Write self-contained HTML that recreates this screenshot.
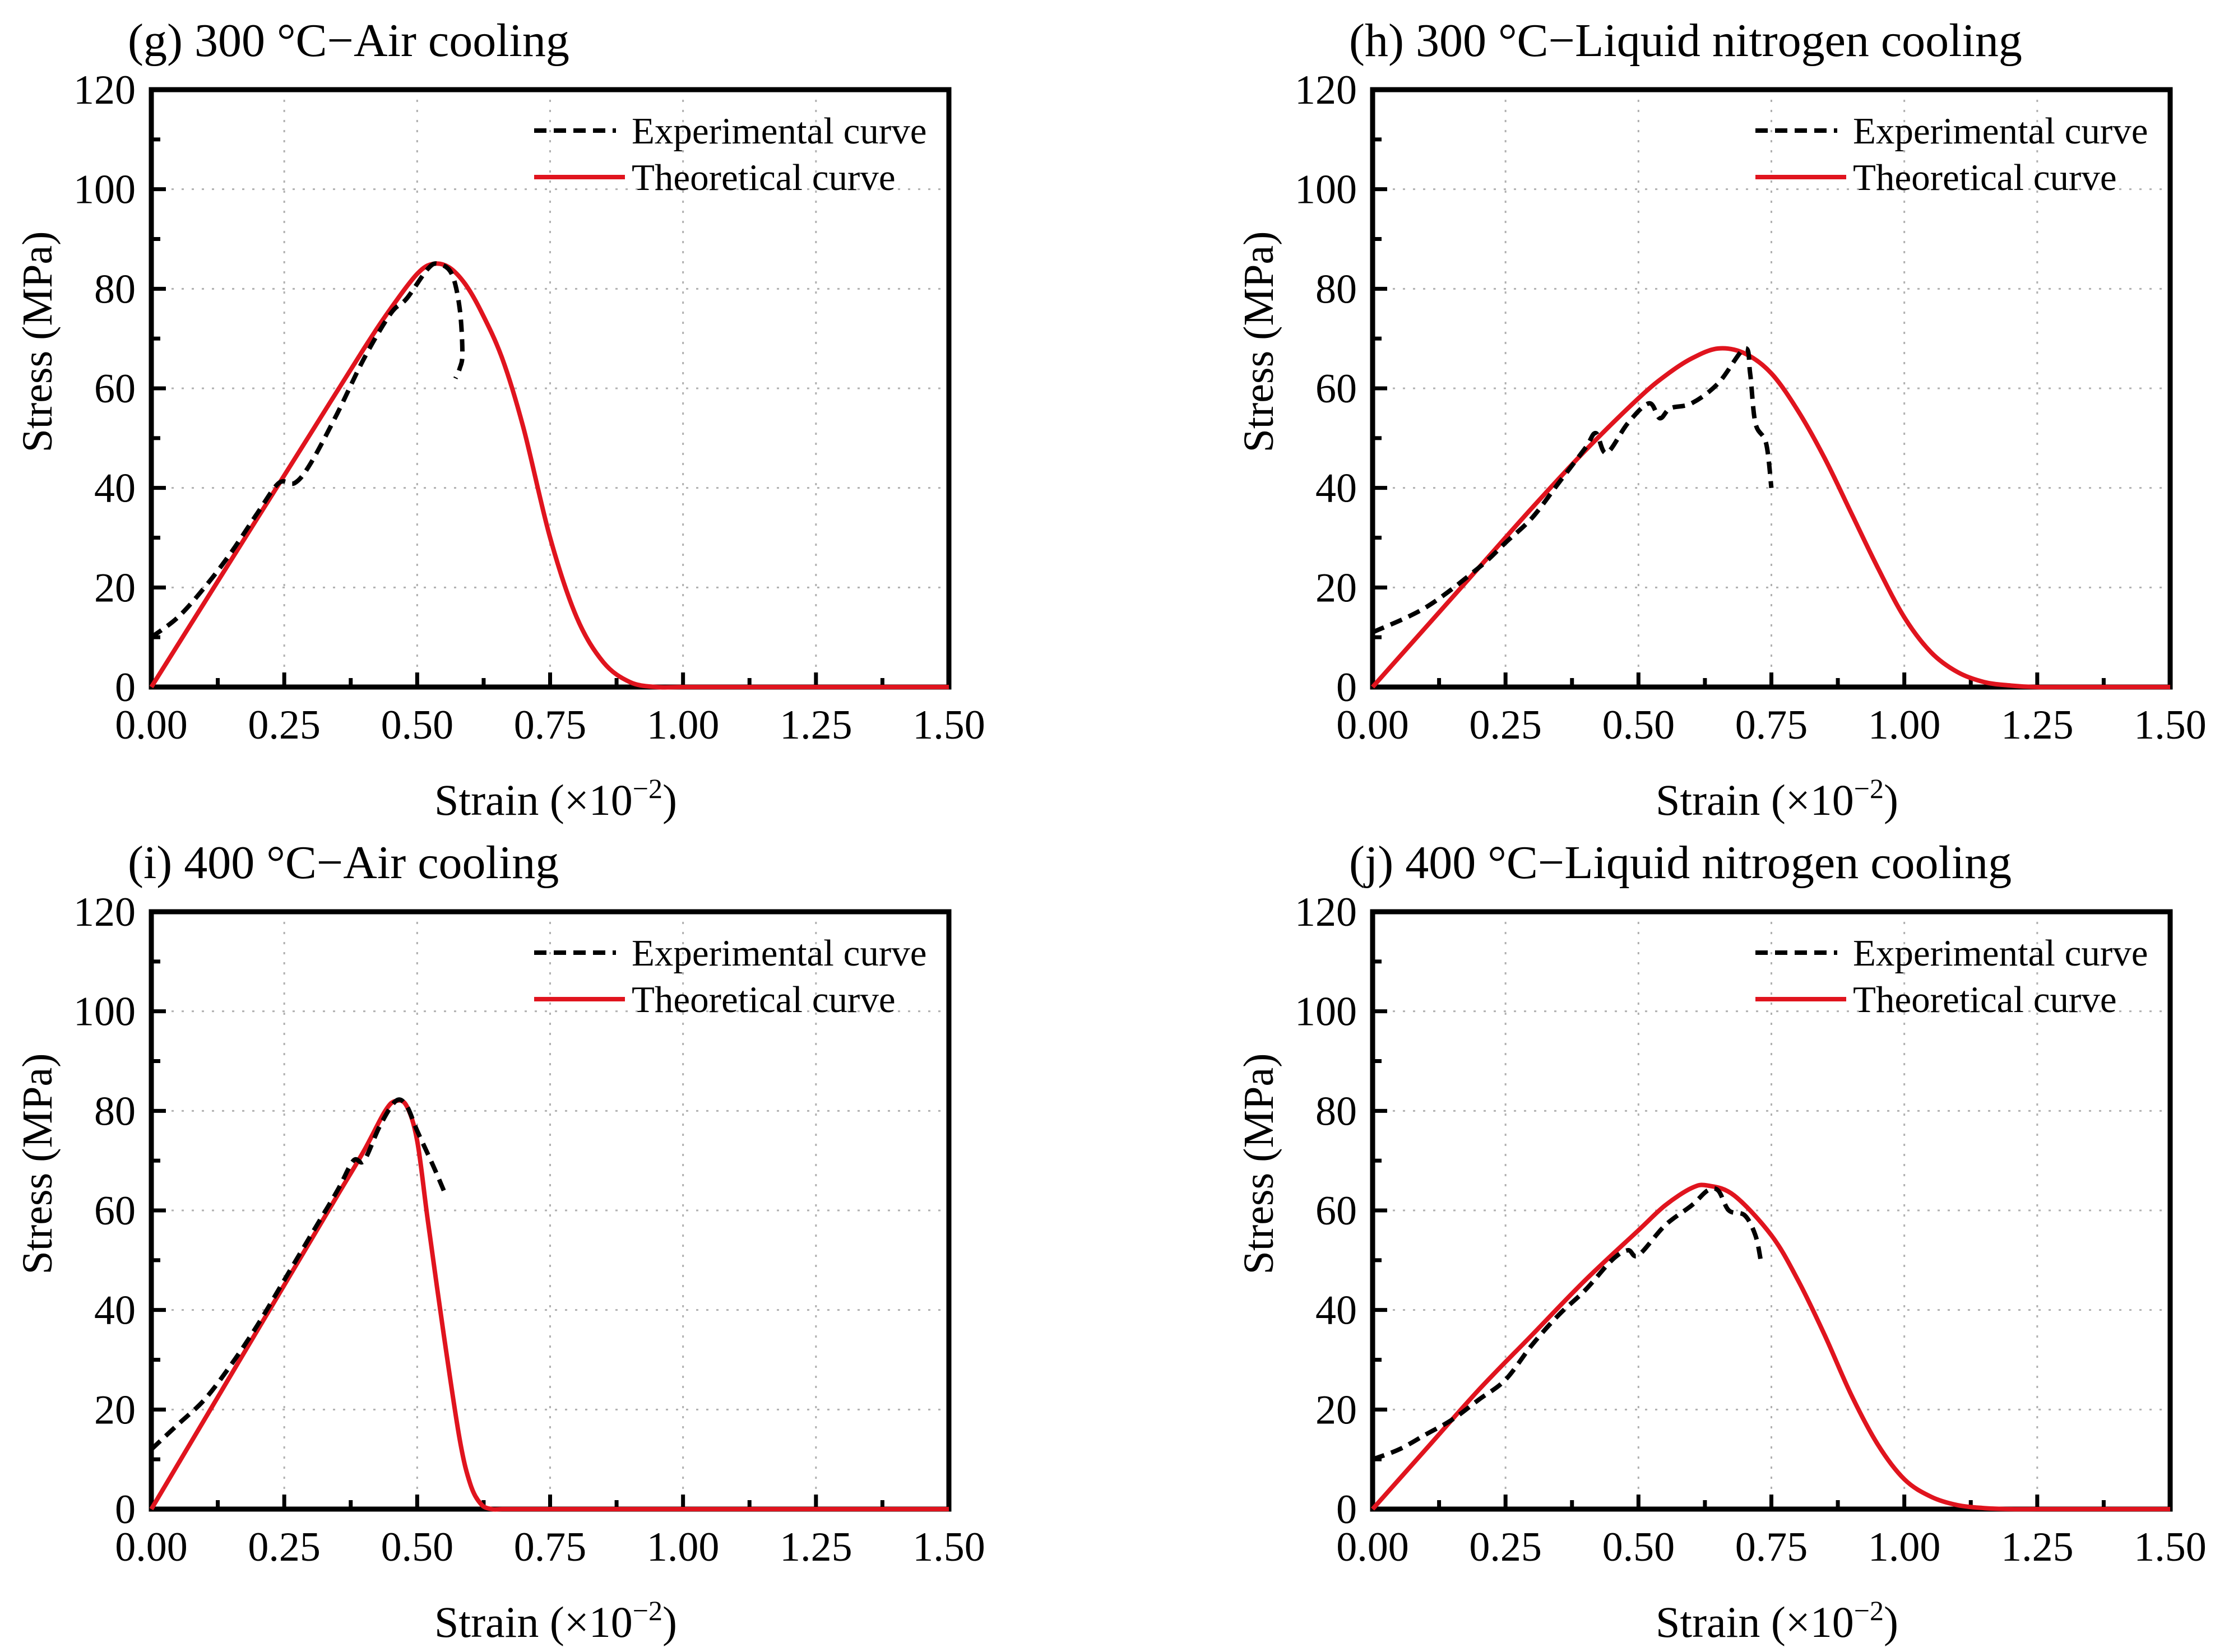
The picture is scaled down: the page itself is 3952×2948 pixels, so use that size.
<!DOCTYPE html>
<html><head><meta charset="utf-8">
<style>
html,body{margin:0;padding:0;background:#fff;}
svg{display:block;font-family:"Liberation Serif","Times New Roman",serif;}
</style></head>
<body>
<svg id="chart" width="3952" height="2948" viewBox="0 0 3952 2948" xmlns="http://www.w3.org/2000/svg"></svg>
<script>
// ---- data ----
const xTicks = [0, 0.25, 0.5, 0.75, 1.0, 1.25, 1.5];
const xTickLabels = ["0.00","0.25","0.50","0.75","1.00","1.25","1.50"];
const yTicks = [0, 20, 40, 60, 80, 100, 120];
const yTickLabels = ["0","20","40","60","80","100","120"];
const panelTitles = ["(g) 300 °C\u2212Air cooling","(h) 300 °C\u2212Liquid nitrogen cooling","(i) 400 °C\u2212Air cooling","(j) 400 °C\u2212Liquid nitrogen cooling"];

const gTheoX = [0,0.1,0.2,0.3,0.4,0.45,0.5,0.53,0.56,0.59,0.62,0.66,0.7,0.75,0.8,0.85,0.9,0.95,1.0,1.1,1.2,1.3,1.4,1.5];
const gTheoY = [0,17,34,51,68,76,83,85,84.3,81,75.5,66,52,30,14,5,1,0,0,0,0,0,0,0];
const gExpX = [0,0.05,0.1,0.15,0.2,0.24,0.27,0.3,0.35,0.4,0.45,0.48,0.52,0.54,0.565,0.58,0.585,0.58,0.572];
const gExpY = [10,14,20,27,35,41,41,45,55,66,75,78,84,85,83,76,67,64,62];

const hTheoX = [0,0.1,0.2,0.3,0.4,0.5,0.55,0.6,0.65,0.7,0.75,0.8,0.85,0.9,0.95,1.0,1.05,1.1,1.15,1.2,1.25,1.3,1.4,1.5];
const hTheoY = [0,12,24,36,47.5,58,62.5,66,68,67,63,55.5,46,35,24,14,7,3,1,0.3,0,0,0,0];
const hExpX = [0,0.1,0.2,0.25,0.3,0.35,0.4,0.42,0.44,0.48,0.52,0.54,0.56,0.6,0.65,0.7,0.71,0.72,0.74,0.75];
const hExpY = [11,16,24,29,34,41,48,51,47,53,57,54,56,57,61,68,63,53,49,40];

const iTheoX = [0,0.1,0.2,0.3,0.35,0.4,0.44,0.46,0.48,0.5,0.52,0.55,0.58,0.6,0.62,0.64,0.66,0.7,0.8,0.9,1.0,1.1,1.2,1.3,1.4,1.5];
const iTheoY = [0,18,36,54,63,72,80,82,81,74,58,35,14,5,1,0,0,0,0,0,0,0,0,0,0,0];
const iExpX = [0,0.05,0.1,0.15,0.2,0.25,0.3,0.35,0.38,0.4,0.43,0.46,0.48,0.5,0.53,0.55];
const iExpY = [12,17,22,29,37,46,55,64,70,70,77,82,81,76,69,64];

const jTheoX = [0,0.1,0.2,0.3,0.4,0.5,0.55,0.6,0.63,0.68,0.75,0.8,0.85,0.9,0.95,1.0,1.05,1.1,1.15,1.2,1.25,1.3,1.4,1.5];
const jTheoY = [0,12,24,35,46,56,61,64.5,65,63,55,46,35,23,13,6,2.5,0.8,0.2,0,0,0,0,0];
const jExpX = [0,0.05,0.1,0.15,0.2,0.25,0.3,0.35,0.4,0.45,0.48,0.5,0.55,0.6,0.63,0.65,0.67,0.7,0.72,0.73];
const jExpY = [10,12,15,18,22,26,33,39,44,50,52,51,57,61,64,64,60,59,55,50];

const panels = [
  {name:"g", tx:gTheoX, ty:gTheoY, ex:gExpX, ey:gExpY},
  {name:"h", tx:hTheoX, ty:hTheoY, ex:hExpX, ey:hExpY},
  {name:"i", tx:iTheoX, ty:iTheoY, ex:iExpX, ey:iExpY},
  {name:"j", tx:jTheoX, ty:jTheoY, ex:jExpX, ey:jExpY}
];
// ---- layout ----
const NS = "http://www.w3.org/2000/svg";
const svg = document.getElementById("chart");
const PW = 1423, PH = 1066;
const origins = [[270,160],[2449,160],[270,1627],[2449,1627]];

function mk(tag, attrs, parent){
  const e = document.createElementNS(NS, tag);
  for (const k in attrs) e.setAttribute(k, attrs[k]);
  (parent||svg).appendChild(e);
  return e;
}
function smoothPath(pts){
  let d = "M" + pts[0][0].toFixed(1) + "," + pts[0][1].toFixed(1);
  for (let i=0;i<pts.length-1;i++){
    const p0 = pts[i-1]||pts[i], p1 = pts[i], p2 = pts[i+1], p3 = pts[i+2]||p2;
    const t = 1/6;
    const c1 = [p1[0]+(p2[0]-p0[0])*t, p1[1]+(p2[1]-p0[1])*t];
    const c2 = [p2[0]-(p3[0]-p1[0])*t, p2[1]-(p3[1]-p1[1])*t];
    d += " C"+c1[0].toFixed(1)+","+c1[1].toFixed(1)+" "+c2[0].toFixed(1)+","+c2[1].toFixed(1)+" "+p2[0].toFixed(1)+","+p2[1].toFixed(1);
  }
  return d;
}

panels.forEach((p, idx) => {
  const [L, T] = origins[idx];
  const X = v => L + v/1.5*PW;
  const Y = v => T + PH - v/120*PH;
  const g = mk("g", {});
  
  

  const title = mk("text", {x:L-42, y:T-60, "font-size":84, fill:"#000"}, g);
  title.textContent = panelTitles[idx];
  
  

  // grid
  xTicks.forEach((v,i)=>{
    if (i>0 && i<xTicks.length-1){
      const gl = mk("line",{x1:X(v),x2:X(v),y1:T,y2:T+PH,stroke:"#b0b0b0","stroke-width":3,"stroke-dasharray":"4,14"},g);
      
      
    }
  });
  yTicks.forEach((v,i)=>{
    if (i>0 && i<yTicks.length-1){
      const gl = mk("line",{x1:L,x2:L+PW,y1:Y(v),y2:Y(v),stroke:"#b0b0b0","stroke-width":3,"stroke-dasharray":"4,14"},g);
      
      
    }
  });

  // frame
  const fr = mk("rect",{x:L,y:T,width:PW,height:PH,fill:"none",stroke:"#000","stroke-width":9},g);
  
  

  // ticks
  for (let k=0;k<=12;k++){
    const v = k*0.125;
    const len = k%2===0 ? 26 : 16;
    mk("line",{x1:X(v),x2:X(v),y1:T+PH,y2:T+PH-len,stroke:"#000","stroke-width":7},g);
  }
  for (let k=0;k<=12;k++){
    const v = k*10;
    const len = k%2===0 ? 26 : 16;
    mk("line",{x1:L,x2:L+len,y1:Y(v),y2:Y(v),stroke:"#000","stroke-width":7},g);
  }

  // curves
  const tp = p.tx.map((v,i)=>[X(v),Y(p.ty[i])]);
  const theo = mk("path",{d:smoothPath(tp),fill:"none",stroke:"#e0141e","stroke-width":8,"stroke-linejoin":"round"},g);
  
  
  const ep = p.ex.map((v,i)=>[X(v),Y(p.ey[i])]);
  const exp = mk("path",{d:smoothPath(ep),fill:"none",stroke:"#000","stroke-width":8,"stroke-dasharray":"22,13"},g);
  
  

  xTicks.forEach((v,i)=>{
    const t = mk("text",{x:X(v),y:T+PH+92,"font-size":74,"text-anchor":"middle",fill:"#000"},g);
    t.textContent = xTickLabels[i];
    
    
  });
  yTicks.forEach((v,i)=>{
    const t = mk("text",{x:L-28,y:Y(v)+25,"font-size":74,"text-anchor":"end",fill:"#000"},g);
    t.textContent = yTickLabels[i];
    
    
  });

  // axis titles
  const xt = mk("text",{x:L+PW/2+10,y:T+PH+228,"font-size":78,"text-anchor":"middle",fill:"#000"},g);
  xt.innerHTML = 'Strain (\u00d710<tspan dy="-30" font-size="50">\u22122</tspan><tspan dy="30">)</tspan>';
  
  
  const yt = mk("text",{x:0,y:0,"font-size":76,"text-anchor":"middle",fill:"#000",transform:"translate("+(L-178)+","+(T+450)+") rotate(-90)"},g);
  yt.textContent = "Stress (MPa)";
  
  

  // legend
  const lg = mk("g",{},g);
  
  
  mk("line",{x1:L+683,x2:L+829,y1:T+73,y2:T+73,stroke:"#000","stroke-width":8,"stroke-dasharray":"22,13"},lg);
  mk("line",{x1:L+683,x2:L+845,y1:T+156,y2:T+156,stroke:"#e0141e","stroke-width":8},lg);
  const l1 = mk("text",{x:L+857,y:T+96,"font-size":67,fill:"#000"},lg);
  l1.textContent = "Experimental curve";
  
  
  const l2 = mk("text",{x:L+857,y:T+179,"font-size":67,fill:"#000"},lg);
  l2.textContent = "Theoretical curve";
  
  
});
</script>
</body></html>
